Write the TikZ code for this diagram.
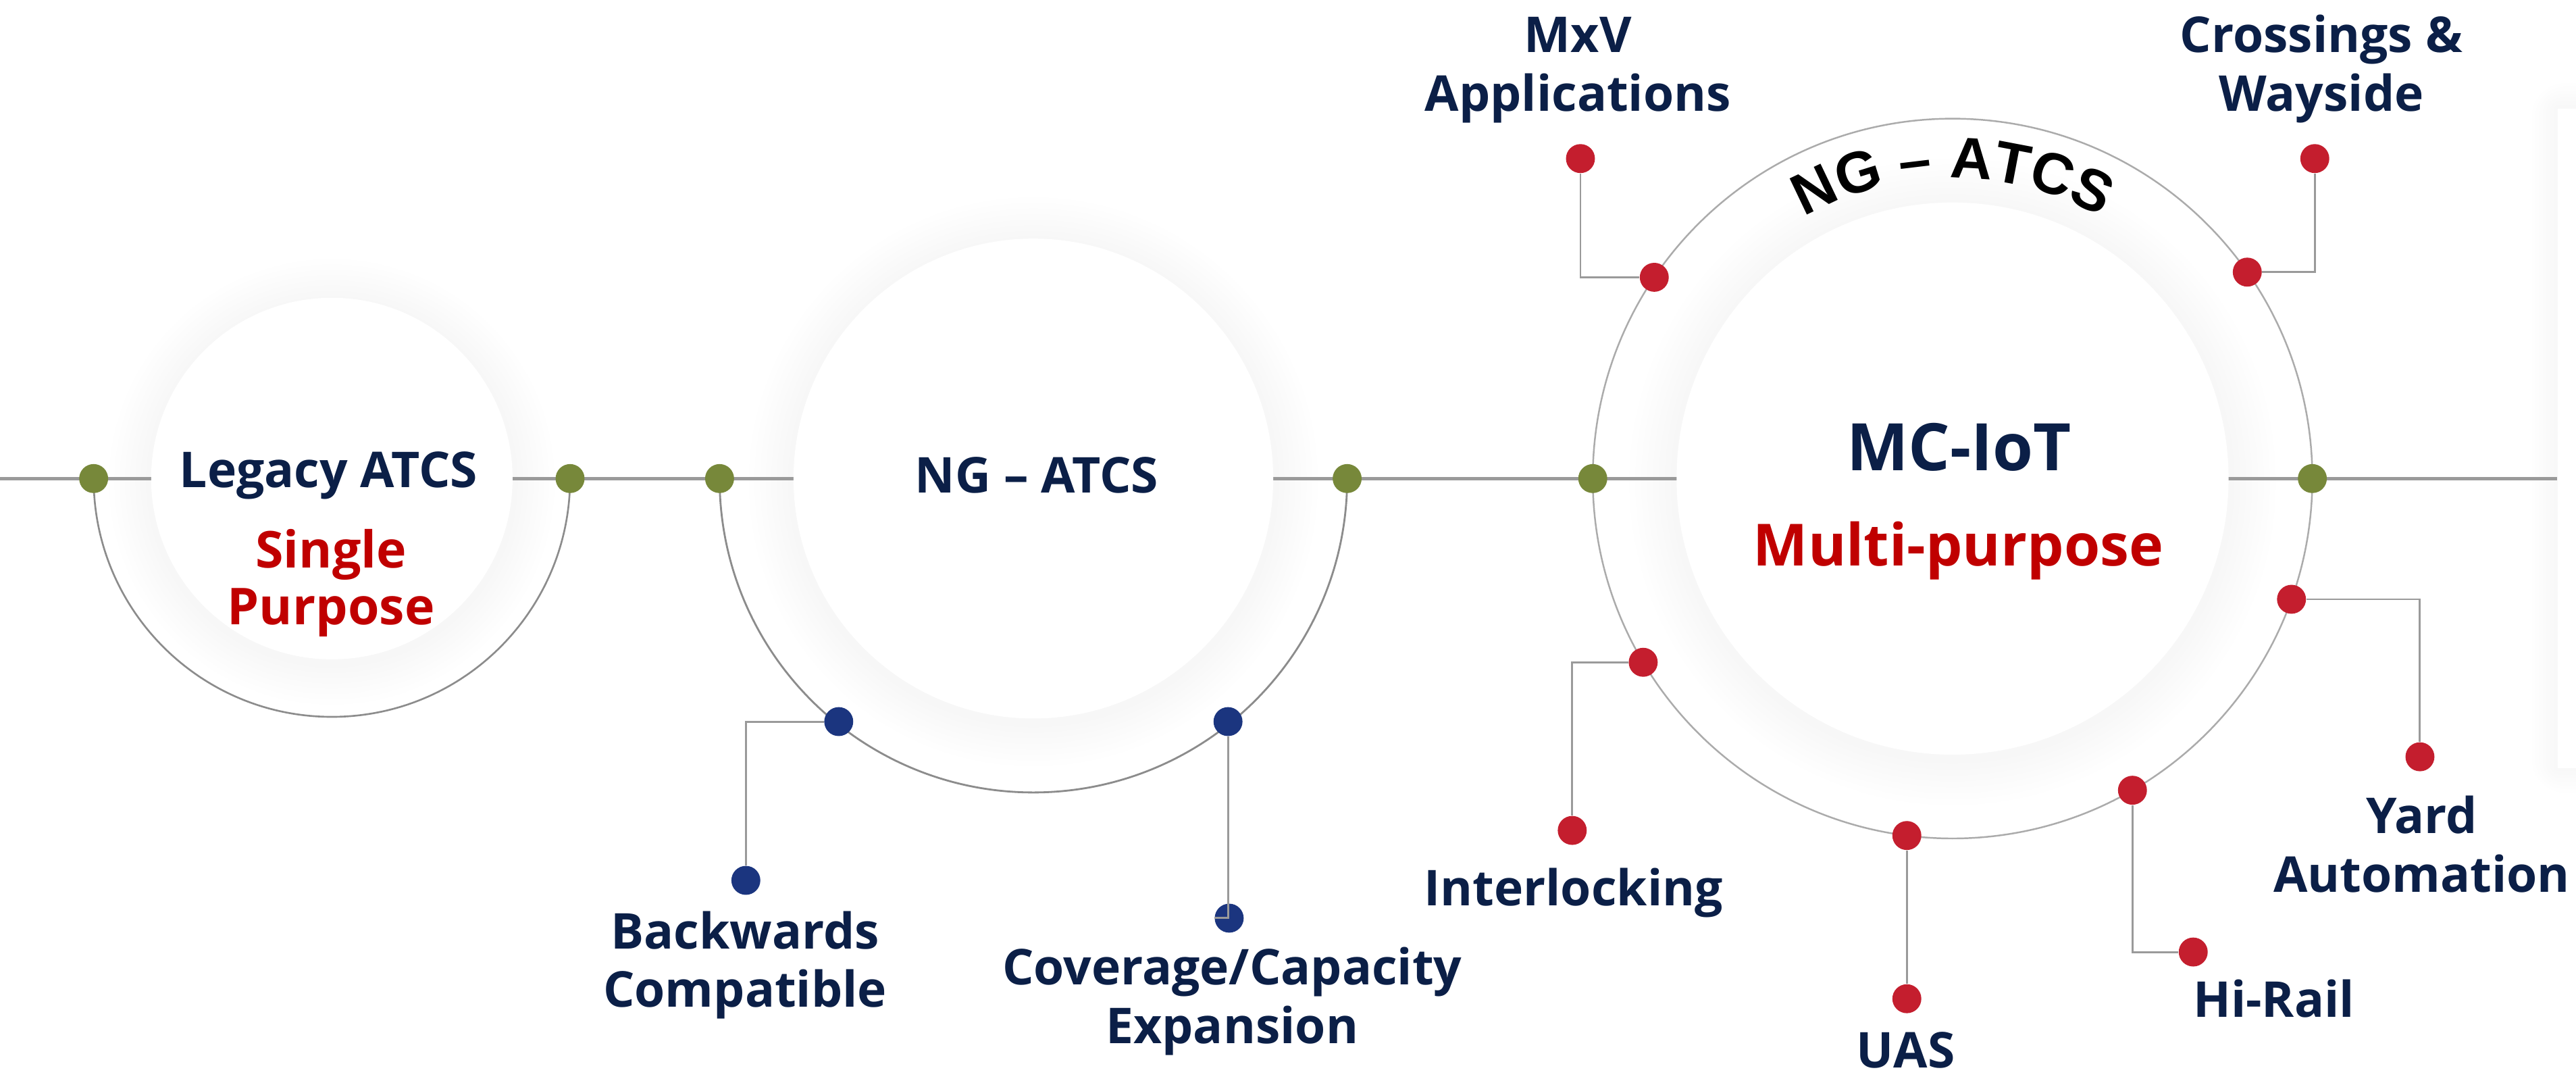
\documentclass[tikz,border=0pt]{standalone}
\usepackage{fontspec}
\setmainfont{Open Sans}
\newfontfamily\arcfont{Liberation Sans}
\usetikzlibrary{calc,decorations.text}
\definecolor{navy}{HTML}{0B1F47}
\definecolor{txtred}{HTML}{C00000}
\definecolor{dotred}{HTML}{C41E2E}
\definecolor{dotolive}{HTML}{77883A}
\definecolor{dotblue}{HTML}{1B357F}
\definecolor{linegray}{HTML}{9A9A9A}
\definecolor{ringgray}{HTML}{ABABAB}
\definecolor{arcgray}{HTML}{8C8C8C}
\begin{document}
\begin{tikzpicture}[x=0.024324cm, y=-0.024324cm,
  dot/.style={circle, inner sep=0pt, minimum size=12.2pt},
  odot/.style={dot, fill=dotolive},
  rdot/.style={dot, fill=dotred},
  bdot/.style={dot, fill=dotblue},
  leader/.style={draw=linegray, line width=0.85pt},
  mainline/.style={draw=linegray, line width=1.4pt},
  lbl/.style={text=navy, font=\bfseries\fontsize{20.8}{24.6}\selectfont, align=center, inner sep=0pt, anchor=base},
  ctext/.style={text=navy, font=\bfseries\fontsize{20.8}{24}\selectfont, align=center, inner sep=0pt, anchor=base},
  rtext/.style={text=txtred, font=\bfseries\fontsize{21.4}{23.9}\selectfont, align=center, inner sep=0pt, anchor=base},
]
\useasboundingbox (0,0) rectangle (1568,657.4);
\fill[white] (0,0) rectangle (1568,657.4);

% centres
\coordinate (c1) at (202,291.2);
\coordinate (c2) at (629,291.2);
\coordinate (c3) at (1188.5,291.2);

% soft halos
\foreach \i in {1,...,8}{
  \fill[black, opacity=0.0045] ($(c1)+(0,2)$) circle[radius=110+3.2*\i];
  \fill[black, opacity=0.0045] ($(c2)+(0,2)$) circle[radius=146+3.4*\i];
  \fill[black, opacity=0.0045] ($(c3)+(0,2)$) circle[radius=168+3.6*\i];
}

% right box with shadow
\foreach \i in {1,...,7}{
  \fill[black, opacity=0.005, rounded corners=2*\i] (1556.5-2.2*\i,66-2.2*\i) rectangle (1600,467+2.2*\i);
}
\node[fill=white, inner sep=0pt, minimum width=30pt, minimum height=277.5pt, anchor=north west] (box) at (1556.5,66) {};

% main line
\coordinate (lstart) at (0,291.2);
\coordinate (lend) at (1556.5,291.2);
\draw[mainline] (lstart) -- (lend);

% arcs and ring
\draw[draw=arcgray, line width=0.75pt] (57,291.2) arc[start angle=180, end angle=0, radius=145];
\draw[draw=arcgray, line width=0.8pt] (438,291.2) arc[start angle=180, end angle=0, radius=191];
\draw[draw=ringgray, line width=0.7pt] (c3) circle[radius=219];

% inner white circles
\fill[white] (c1) circle[radius=110];
\fill[white] (c2) circle[radius=146];
\fill[white] (c3) circle[radius=168];

% curved title
\path[decorate, decoration={text along path, text align=center,
  text={|\arcfont\bfseries\fontsize{24.5}{24.5}\selectfont\color{black}|NG – ATCS}}]
  ($(c3)+(-150:183)$) arc[start angle=-150, end angle=-30, radius=183];

% olive dots on main line
\node[odot] (o1) at (57,291.2) {};
\node[odot] (o2) at (347,291.2) {};
\node[odot] (o3) at (438,291.2) {};
\node[odot] (o4) at (820,291.2) {};
\node[odot] (o5) at (969.5,291.2) {};
\node[odot] (o6) at (1407.5,291.2) {};

% blue dots
\node[bdot] (bkA) at ($(c2)+(128.7:189.5)$) {};
\node[bdot] (bkB) at (454,535.7) {};
\node[bdot] (cvA) at ($(c2)+(51.3:189.5)$) {};
\node[bdot] (cvB) at (748.2,558.7) {};
\draw[leader] (bkA) -| (bkB);
\draw[leader] (cvA) -- (cvA |- cvB) -- (cvB);

% red dots
\node[rdot] (mxA) at ($(c3)+(-146:219)$) {};
\node[rdot] (mxB) at (962,96.5) {};
\node[rdot] (crA) at ($(c3)+(-35:219)$) {};
\node[rdot] (crB) at (1409,96.5) {};
\node[rdot] (ilA) at ($(c3)+(149.3:219)$) {};
\node[rdot] (ilB) at (957,505.3) {};
\node[rdot] (uaA) at ($(c3)+(97.3:219)$) {};
\node[rdot] (hrA) at ($(c3)+(60:219)$) {};
\node[rdot] (hrB) at (1335,579.3) {};
\node[rdot] (yaA) at ($(c3)+(19.6:219)$) {};
\node[rdot] (yaB) at (1473,460.5) {};
\path (uaA) ++(0,99.3) node[rdot] (uaB) {};

\draw[leader] (mxA) -| (mxB);
\draw[leader] (crA) -| (crB);
\draw[leader] (ilA) -| (ilB);
\draw[leader] (uaA) -- (uaB);
\draw[leader] (hrA) |- (hrB);
\draw[leader] (yaA) -| (yaB);

% circle texts (base = last line baseline)
\node[ctext] (legacy) at (200,296.5) {Legacy ATCS};
\node[rtext] (single) at (201.5,380.2) {Single\\Purpose};
\node[ctext] (ngin) at (631,300.1) {NG – ATCS};
\node[text=navy, font=\bfseries\fontsize{27.6}{30}\selectfont, inner sep=0pt, anchor=base] (mciot) at (1192.5,286.5) {MC-IoT};
\node[text=txtred, font=\bfseries\fontsize{24.5}{28}\selectfont, inner sep=0pt, anchor=base] (multi) at (1192,344.5) {Multi-purpose};

% labels (base = last line baseline)
\node[lbl] (lmx) at (960.5,67.5) {MxV\\Applications};
\node[lbl] (lcr) at (1413,67.5) {Crossings \&\\Wayside};
\node[lbl] (lil) at (957.7,551) {Interlocking};
\node[lbl] (lua) at (1160,649.6) {UAS};
\node[lbl] (lhr) at (1384,619) {Hi-Rail};
\node[lbl] (lya) at (1474,542.7) {Yard\\Automation};
\node[lbl] (lbk) at (453.5,612.9) {Backwards\\Compatible};
\node[lbl] (lcv) at (750,634.8) {Coverage/Capacity\\Expansion};
\end{tikzpicture}
\end{document}
